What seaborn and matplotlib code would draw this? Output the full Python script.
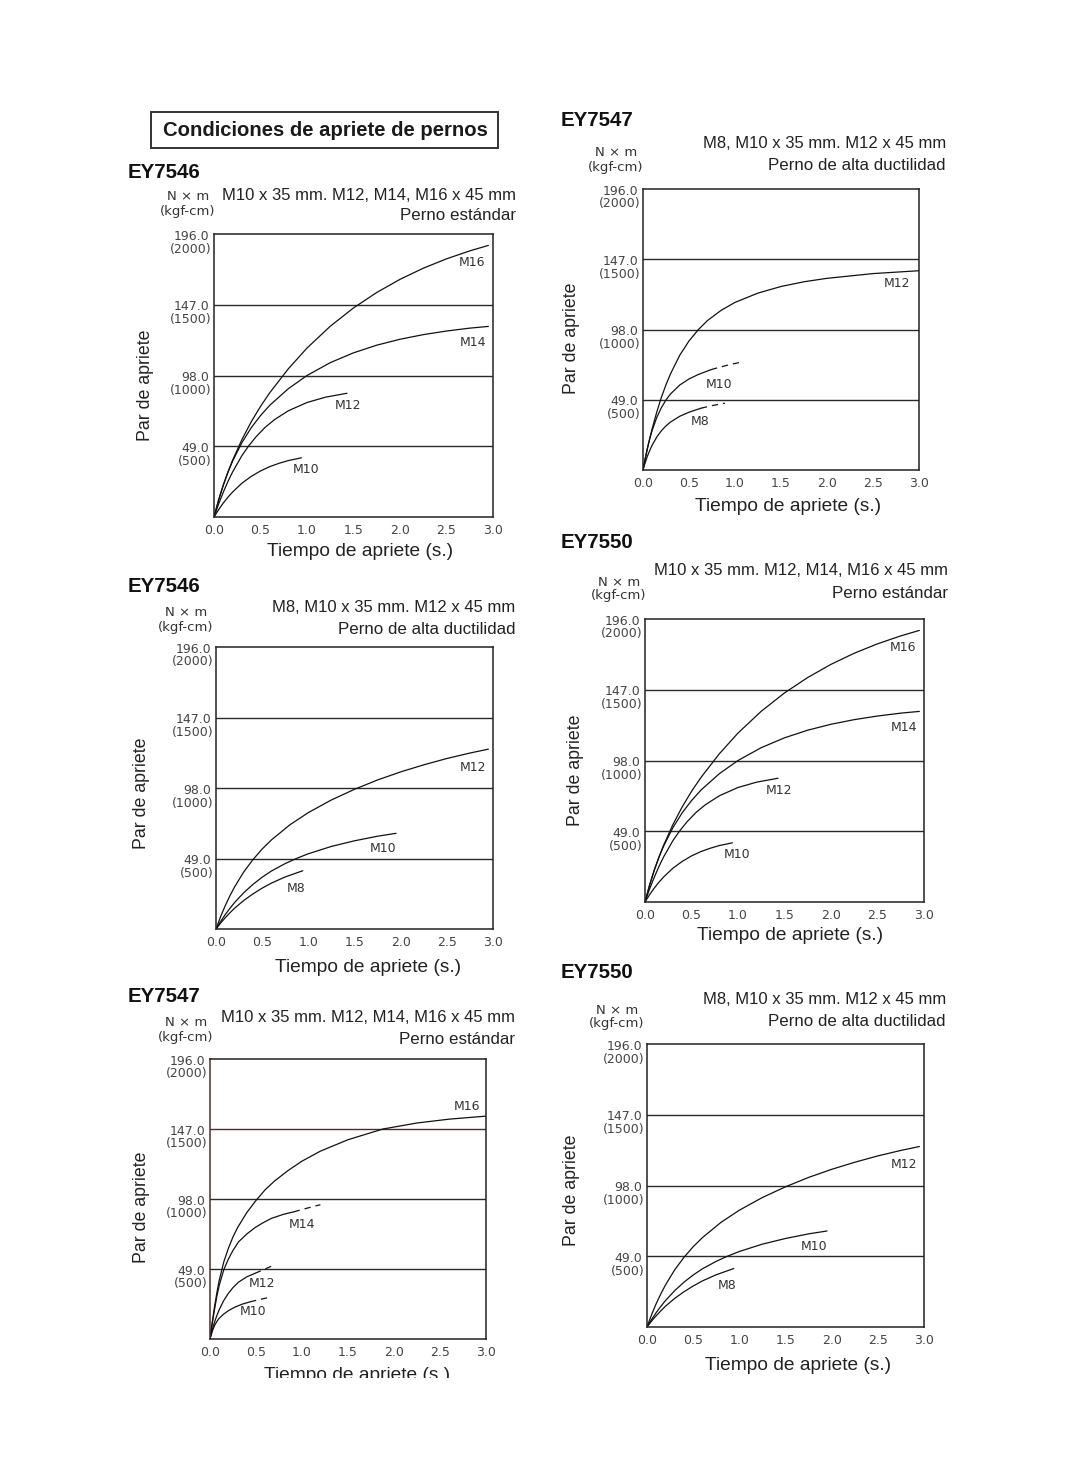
import matplotlib
matplotlib.use("Agg")
import seaborn as sns
from matplotlib import pyplot as plt
from matplotlib.patches import Rectangle
from matplotlib.transforms import Bbox, TransformedBbox

W, H = 1080, 1479

# axis levels (N x m) and their kgf-cm equivalents
Y_LEVELS = [49.0, 98.0, 147.0, 196.0]
Y_KGF = [500, 1000, 1500, 2000]
X_TICKS = [0.0, 0.5, 1.0, 1.5, 2.0, 2.5, 3.0]

# EY7546 / EY7550 - perno estandar
STD_M16_T = [0, 0.05, 0.1, 0.15, 0.2, 0.3, 0.4, 0.5, 0.6, 0.8, 1.0, 1.25, 1.5, 1.75, 2.0, 2.25, 2.5, 2.75, 2.95]
STD_M16_V = [0, 11.7, 22, 31.1, 39.3, 53.6, 65.9, 76.6, 86.1, 102.7, 117, 132.1, 144.8, 155.5, 164.6, 172.3, 178.8, 184.3, 188.1]
STD_M14_T = [0, 0.05, 0.1, 0.15, 0.2, 0.3, 0.4, 0.5, 0.6, 0.8, 1.0, 1.25, 1.5, 1.75, 2.0, 2.25, 2.5, 2.75, 2.95]
STD_M14_V = [0, 12, 22.2, 31, 38.7, 51.5, 61.8, 70.2, 77.4, 88.9, 98, 106.9, 113.7, 119, 123.1, 126.3, 128.8, 130.8, 132]
STD_M12_T = [0, 0.05, 0.1, 0.15, 0.2, 0.3, 0.37, 0.45, 0.55, 0.65, 0.8, 1.0, 1.2, 1.43]
STD_M12_V = [0, 9.1, 17.2, 24.6, 31.2, 42.5, 49, 55.4, 62.1, 67.4, 73.6, 79.3, 83, 85.7]
STD_M10_T = [0, 0.05, 0.1, 0.15, 0.2, 0.3, 0.4, 0.5, 0.6, 0.7, 0.8, 0.94]
STD_M10_V = [0, 5.1, 9.7, 13.7, 17.3, 23.4, 28.1, 31.9, 34.9, 37.2, 39.1, 41]
STD_NAMES = ["M16", "M14", "M12", "M10"]
STD_NAME_T = [2.77, 2.79, 1.44, 0.99]
STD_NAME_V = [176, 121, 77.5, 33]

# EY7546 / EY7550 - perno de alta ductilidad
HD_M12_T = [0, 0.05, 0.1, 0.15, 0.2, 0.3, 0.4, 0.5, 0.6, 0.8, 1.0, 1.25, 1.5, 1.75, 2.0, 2.25, 2.5, 2.75, 2.95]
HD_M12_V = [0, 8.6, 16.2, 23, 29.1, 39.6, 48.2, 55.6, 61.9, 72.4, 80.9, 89.7, 97.1, 103.6, 109.2, 114.1, 118.5, 122.3, 125]
HD_M10_T = [0, 0.05, 0.1, 0.15, 0.2, 0.3, 0.4, 0.5, 0.6, 0.75, 0.87, 1.0, 1.25, 1.5, 1.75, 1.95]
HD_M10_V = [0, 5.2, 10, 14.3, 18.3, 25.2, 31, 36, 40.3, 45.5, 49, 52.3, 57.4, 61.3, 64.5, 66.5]
HD_M8_T = [0, 0.05, 0.1, 0.15, 0.2, 0.3, 0.4, 0.5, 0.6, 0.75, 0.94]
HD_M8_V = [0, 4.1, 7.8, 11.2, 14.4, 19.8, 24.4, 28.4, 31.9, 36.2, 40.5]
HD_NAMES = ["M12", "M10", "M8"]
HD_NAME_T = [2.78, 1.81, 0.87]
HD_NAME_V = [112.5, 56, 28.4]

# EY7547 - perno de alta ductilidad
HD47_M12_T = [0, 0.025, 0.05, 0.075, 0.1, 0.15, 0.2, 0.25, 0.3, 0.4, 0.5, 0.6, 0.7, 0.85, 1.0, 1.25, 1.5, 1.75, 2.0, 2.5, 3.0]
HD47_M12_V = [0, 8, 15.4, 22.5, 28.9, 40.5, 50.7, 59.5, 67.2, 80.1, 90, 97.8, 104.2, 111.4, 116.9, 123.4, 128, 131.3, 133.7, 137, 139]
HD47_M10_T = [0, 0.025, 0.05, 0.075, 0.1, 0.15, 0.2, 0.25, 0.3, 0.4, 0.5, 0.6, 0.74]
HD47_M10_V = [0, 8.5, 15.8, 22.2, 27.7, 36.7, 43.5, 48.9, 53.1, 59.3, 63.5, 66.6, 70]
HD47_M10X_T = [0.74, 0.85, 0.95, 1.05]
HD47_M10X_V = [70, 72, 73.6, 75]
HD47_M8_T = [0, 0.025, 0.05, 0.075, 0.1, 0.15, 0.2, 0.25, 0.3, 0.4, 0.5, 0.63]
HD47_M8_V = [0, 5.3, 10, 13.9, 17.4, 23, 27.4, 30.8, 33.5, 37.5, 40.3, 43.1]
HD47_M8X_T = [0.63, 0.75, 0.89]
HD47_M8X_V = [43.1, 44.9, 46.6]
HD47_NAMES = ["M12", "M10", "M8"]
HD47_NAME_T = [2.76, 0.83, 0.62]
HD47_NAME_V = [130, 59.4, 33.8]

# EY7547 - perno estandar
S47_M16_T = [0, 0.025, 0.05, 0.075, 0.1, 0.15, 0.2, 0.25, 0.3, 0.4, 0.5, 0.6, 0.7, 0.85, 1.0, 1.2, 1.5, 1.88, 2.25, 2.6, 3.0]
S47_M16_V = [0, 12, 23, 32.5, 41, 54, 63.5, 71.5, 78, 88.5, 97, 104.5, 110.5, 118, 124.5, 131.5, 139.5, 147, 151.2, 153.9, 156]
S47_M14_T = [0, 0.025, 0.05, 0.075, 0.1, 0.15, 0.2, 0.25, 0.31, 0.4, 0.49, 0.58, 0.67, 0.8, 0.91]
S47_M14_V = [0, 11, 21, 30, 37.5, 48.5, 56, 62, 68, 73.5, 78, 81.5, 84.5, 87.3, 89]
S47_M14X_T = [0.91, 1.05, 1.2]
S47_M14X_V = [89, 91.5, 94]
S47_M12_T = [0, 0.025, 0.05, 0.075, 0.1, 0.15, 0.2, 0.25, 0.31, 0.4, 0.49]
S47_M12_V = [0, 6.5, 12, 16.5, 20.5, 27, 32, 36, 39.8, 43.5, 46]
S47_M12X_T = [0.49, 0.58, 0.67]
S47_M12X_V = [46, 48.5, 51]
S47_M10_T = [0, 0.025, 0.05, 0.075, 0.1, 0.15, 0.2, 0.27, 0.35, 0.435]
S47_M10_V = [0, 5.5, 9.5, 12.3, 14.5, 17.5, 19.8, 22.3, 24.4, 26]
S47_M10X_T = [0.435, 0.53, 0.635]
S47_M10X_V = [26, 27.5, 29]
S47_NAMES = ["M16", "M14", "M12", "M10"]
S47_NAME_T = [2.79, 1.0, 0.56, 0.47]
S47_NAME_V = [162.5, 79.8, 38.6, 19.3]

SUB_STD = ("M10 x 35 mm. M12, M14, M16 x 45 mm", "Perno estándar")
SUB_HD = ("M8, M10 x 35 mm. M12 x 45 mm", "Perno de alta ductilidad")

DASH = (0, (5, 4))
STD_CURVES = [(STD_M16_T, STD_M16_V, "-"), (STD_M14_T, STD_M14_V, "-"),
              (STD_M12_T, STD_M12_V, "-"), (STD_M10_T, STD_M10_V, "-")]
HD_CURVES = [(HD_M12_T, HD_M12_V, "-"), (HD_M10_T, HD_M10_V, "-"), (HD_M8_T, HD_M8_V, "-")]
HD47_CURVES = [(HD47_M12_T, HD47_M12_V, "-"), (HD47_M10_T, HD47_M10_V, "-"),
               (HD47_M10X_T, HD47_M10X_V, DASH), (HD47_M8_T, HD47_M8_V, "-"),
               (HD47_M8X_T, HD47_M8X_V, DASH)]
S47_CURVES = [(S47_M16_T, S47_M16_V, "-"), (S47_M14_T, S47_M14_V, "-"),
              (S47_M14X_T, S47_M14X_V, DASH), (S47_M12_T, S47_M12_V, "-"),
              (S47_M12X_T, S47_M12X_V, DASH), (S47_M10_T, S47_M10_V, "-"),
              (S47_M10X_T, S47_M10X_V, DASH)]

# layout in pixels of the original page
panels = [
    dict(box=(214, 234, 493, 517), model="EY7546", model_xy=(128, 172), sub=SUB_STD,
         sub_x=516, sub_y=(195, 216), unit=(188, 197, 211), ylab=(145, 385), xlab=(360, 551),
         curves=STD_CURVES, names=(STD_NAMES, STD_NAME_T, STD_NAME_V)),
    dict(box=(643, 189, 919, 470), model="EY7547", model_xy=(561, 121), sub=SUB_HD,
         sub_x=946, sub_y=(143, 165), unit=(616, 152, 167), ylab=(572, 338), xlab=(788, 507),
         curves=HD47_CURVES, names=(HD47_NAMES, HD47_NAME_T, HD47_NAME_V)),
    dict(box=(216, 647, 493, 929), model="EY7546", model_xy=(128, 587), sub=SUB_HD,
         sub_x=515, sub_y=(607, 630), unit=(186, 613, 627), ylab=(142, 793), xlab=(368, 967),
         curves=HD_CURVES, names=(HD_NAMES, HD_NAME_T, HD_NAME_V)),
    dict(box=(645, 619, 924, 902), model="EY7550", model_xy=(561, 543), sub=SUB_STD,
         sub_x=948, sub_y=(571, 593), unit=(619, 583, 596), ylab=(575, 770), xlab=(790, 935),
         curves=STD_CURVES, names=(STD_NAMES, STD_NAME_T, STD_NAME_V)),
    dict(box=(210, 1059, 486, 1339), model="EY7547", model_xy=(128, 997), sub=SUB_STD,
         sub_x=515, sub_y=(1018, 1040), unit=(186, 1023, 1037), ylab=(142, 1207), xlab=(357, 1376),
         curves=S47_CURVES, names=(S47_NAMES, S47_NAME_T, S47_NAME_V), clip_xlab=1378,
         tint="#4e2c2c"),
    dict(box=(647, 1044, 924, 1327), model="EY7550", model_xy=(561, 972), sub=SUB_HD,
         sub_x=946, sub_y=(999, 1022), unit=(617, 1011, 1024), ylab=(572, 1190), xlab=(798, 1366),
         curves=HD_CURVES, names=(HD_NAMES, HD_NAME_T, HD_NAME_V)),
]

sns.set_theme(style="white")
plt.rcParams["font.family"] = ["Liberation Sans", "DejaVu Sans"]

fig = plt.figure(figsize=(W / 100, H / 100), dpi=100)
fig.patch.set_facecolor("white")


def ftext(x, y, s, **kw):
    return fig.text(x / W, 1 - y / H, s, **kw)


# title box
fig.patches.append(Rectangle((151 / W, 1 - 148 / H), 347 / W, 36 / H, transform=fig.transFigure,
                             fill=False, ec="#333333", lw=1.4))
ftext(325, 130, "Condiciones de apriete de pernos", ha="center", va="center",
      fontsize=14.6, fontweight="bold", color="#1a1a1a")

for p in panels:
    l, t, r, b = p["box"]
    ax = fig.add_axes([l / W, 1 - b / H, (r - l) / W, (b - t) / H])
    for xs, ys, ls in p["curves"]:
        sns.lineplot(x=xs, y=ys, ax=ax, color="#111111", lw=0.9, linestyle=ls,
                     sort=False, estimator=None)
    tint = p.get("tint")
    for v in Y_LEVELS[:-1]:
        c = tint if (tint and v == 147.0) else "#2a2a2a"
        ax.axhline(v, color=c, lw=1.0, zorder=1)
    ax.set_xlim(0, 3)
    ax.set_ylim(0, 196)
    ax.set_xticks(X_TICKS)
    ax.set_xticklabels([f"{x:.1f}" for x in X_TICKS])
    ax.set_yticks([])
    ax.tick_params(axis="x", direction="in", length=2.5, width=0.8, color="#222222",
                   pad=5, labelsize=9, labelcolor="#444444")
    for lab in ax.get_xticklabels():
        lab.set_fontfamily("DejaVu Sans")
    ax.set(xlabel="", ylabel="")
    for sp in ax.spines.values():
        sp.set_visible(True)
        sp.set_color("#222222")
        sp.set_linewidth(1.1)
    if tint:
        ax.spines["left"].set_color(tint)

    for v, k in zip(Y_LEVELS, Y_KGF):
        ax.annotate(f"{v:.1f}", xy=(0, v), xycoords=("axes fraction", "data"),
                    xytext=(-3.5, -1.5), textcoords="offset points", ha="right", va="center",
                    fontsize=9, family="DejaVu Sans", color="#444444")
        ax.annotate(f"({k})", xy=(0, v), xycoords=("axes fraction", "data"),
                    xytext=(-2, -10.8), textcoords="offset points", ha="right", va="center",
                    fontsize=9, family="DejaVu Sans", color="#444444")

    names, nt, nv = p["names"]
    for n, x, y in zip(names, nt, nv):
        ax.text(x, y, n, ha="center", va="center", fontsize=9, family="DejaVu Sans",
                color="#333333")

    ftext(*p["model_xy"], p["model"], ha="left", va="center", fontsize=14.8,
          fontweight="bold", color="#111111")
    ftext(p["sub_x"], p["sub_y"][0], p["sub"][0], ha="right", va="center", fontsize=12,
          color="#222222")
    ftext(p["sub_x"], p["sub_y"][1], p["sub"][1], ha="right", va="center", fontsize=12.2,
          color="#222222")
    ux, uy1, uy2 = p["unit"]
    ftext(ux, uy1, "N × m", ha="center", va="center", fontsize=9.5, family="DejaVu Sans",
          color="#333333")
    ftext(ux, uy2, "(kgf-cm)", ha="center", va="center", fontsize=9.5, family="DejaVu Sans",
          color="#333333")
    ftext(*p["ylab"], "Par de apriete", ha="center", va="center", rotation=90,
          fontsize=12.8, color="#222222")
    xl = ftext(*p["xlab"], "Tiempo de apriete (s.)", ha="center", va="center",
               fontsize=13.8, color="#222222")
    if "clip_xlab" in p:
        cut = 1 - p["clip_xlab"] / H
        xl.set_clip_box(TransformedBbox(Bbox([[0, cut], [1, 1]]), fig.transFigure))
        xl.set_clip_on(True)

fig.savefig("out.png", dpi=100, facecolor="white")
